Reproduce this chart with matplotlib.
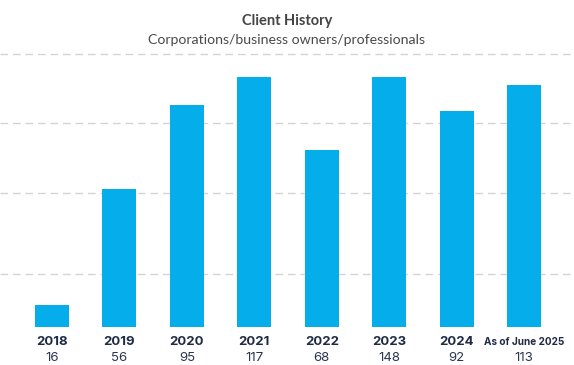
import matplotlib.pyplot as plt

# veriler (bar yükseklikleri resimden okunan yaklaşık değerler)
kategoriler = ["2018", "2019", "2020", "2021", "2022", "2023", "2024", "As of June 2025"]
musteri_sayisi = ["16", "56", "95", "117", "68", "148", "92", "113"]
bar_yukseklik = [22, 138, 222, 250, 177, 250, 216, 242]
grid_seviyeleri = [53, 134, 204, 273]

baslik = "Client History"
alt_baslik = "Corporations/business owners/professionals"

fig = plt.figure(figsize=(5.74, 3.65), dpi=100)
fig.patch.set_facecolor("white")

# gri alan: üstten 327.7 px'e kadar
ax = fig.add_axes([0, 1 - 327.7 / 365, 1, 327.7 / 365])
ax.set_facecolor("#EAEAEA")

x = list(range(len(kategoriler)))
for g in grid_seviyeleri:
    ax.axhline(g, color="#D3D3D8", lw=1.0, dashes=(5.5, 3.5), zorder=1)

ax.bar(x, bar_yukseklik, width=0.505, color="#05AEEA", zorder=2)

ax.set_xlim(-0.771, 7.74)
ax.set_ylim(-1, 326.7)
ax.axis("off")

# başlıklar
fig.text(0.5, 1 - 21 / 365, baslik, ha="center", va="center",
         fontsize=10.5, fontweight="bold", color="#444444", family="Lato")
fig.text(0.5, 1 - 39.5 / 365, alt_baslik, ha="center", va="center",
         fontsize=10.2, color="#4a4a4a", family="Lato")

# alt etiketler
for i, (k, s) in enumerate(zip(kategoriler, musteri_sayisi)):
    xf = (i + 0.771) / (7.74 + 0.771)
    fs = 9.5 if k.isdigit() else 7.2
    fig.text(xf, 1 - 342 / 365, k, ha="center", va="center",
             fontsize=fs, fontweight="bold", color="#1f2a44", family="Inter")
    fig.text(xf, 1 - 358 / 365, s, ha="center", va="center",
             fontsize=9.5, color="#2a3550", family="Inter")

fig.savefig("out.png", dpi=100)
